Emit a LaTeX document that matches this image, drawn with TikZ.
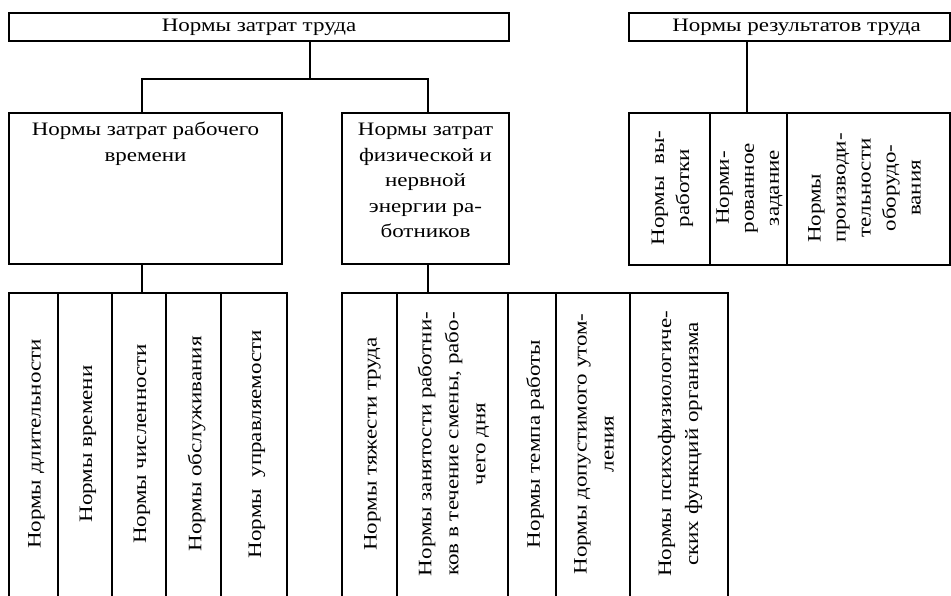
\documentclass[tikz,border=0pt]{standalone}
\usepackage{fontspec}
\setmainfont{Liberation Serif}[FakeStretch=1.21]
\usetikzlibrary{calc}
\newlength\mylen
\newcommand\fs{\fontsize{19}{25.5}\selectfont}
\newcommand\fsb{\fontsize{19}{27}\selectfont}
\newcommand\fsr{\fontsize{19}{25}\selectfont}
\begin{document}
\begin{tikzpicture}[x=1pt,y=-1pt,
  ln/.style={line width=1.5pt},
  bx/.style={draw, line width=1.5pt, inner sep=0pt, outer sep=0pt, font=\fs, align=center},
  col/.style={draw, line width=1.5pt, inner sep=0pt, outer sep=0pt, anchor=north, minimum height=330},
  rcol/.style={draw, line width=1.5pt, inner sep=0pt, outer sep=0pt, anchor=north, minimum height=152},
  vt/.style={rotate=90, font=\fsb, align=center, inner sep=0pt},
  vr/.style={rotate=90, font=\fsr, align=center, inner sep=0pt},
  ht/.style={font=\fs, align=center, inner sep=0pt, anchor=north}]
\clip (0,0) rectangle (951,595);
% top boxes
\node[bx, minimum width=500, minimum height=28] (T) at (259,27) {Нормы затрат труда};
\node[bx, minimum width=321, minimum height=28] (R) at (789.5,27) {\hspace*{14pt}Нормы результатов труда};
% second level
\node[col, minimum width=273, minimum height=151] (A) at (145.5,113) {};
\node[ht] (At) at (145.5,122) {Нормы затрат рабочего\\времени};
\node[col, minimum width=167, minimum height=151] (B) at (425.5,113) {};
\node[ht] (Bt) at (425.5,123) {Нормы затрат\\физической и\\нервной\\энергии ра-\\ботников};
% bottom left columns
\node[col, minimum width=49] (L1) at (33.5,293) {};
\node[col, minimum width=54] (L2) at (85,293) {};
\node[col, minimum width=54] (L3) at (139,293) {};
\node[col, minimum width=55] (L4) at (193.5,293) {};
\node[col, minimum width=66] (L5) at (254,293) {};
\node[vt] (L1t) at ($(L1.north)+(3,151)$) {Нормы длительности};
\node[vt] (L2t) at ($(L2.north)+(3,151)$) {Нормы времени};
\node[vt] (L3t) at ($(L3.north)+(3,151)$) {Нормы численности};
\node[vt] (L4t) at ($(L4.north)+(3,151)$) {Нормы обслуживания};
\node[vt] (L5t) at ($(L5.north)+(3,151)$) {Нормы\ \ управляемости};
% bottom middle columns
\node[col, minimum width=55] (M1) at (369.5,293) {};
\node[col, minimum width=111] (M2) at (452.5,293) {};
\node[col, minimum width=48] (M3) at (532,293) {};
\node[col, minimum width=74] (M4) at (593,293) {};
\node[col, minimum width=98] (M5) at (679,293) {};
\node[vt] (M1t) at ($(M1.north)+(3,151)$) {Нормы тяжести труда};
\node[vt] (M2t) at ($(M2.north)+(1,151)$) {Нормы занятости работни-\\ков в течение смены, рабо-\\чего дня};
\node[vt] (M3t) at ($(M3.north)+(3,151)$) {Нормы темпа работы};
\node[vt] (M4t) at ($(M4.north)+(1,151)$) {Нормы допустимого утом-\\ления};
\node[vt] (M5t) at ($(M5.north)+(1,151)$) {Нормы психофизиологиче-\\ских функций организма};
% right group columns
\node[rcol, minimum width=81] (R1) at (669.5,113) {};
\node[rcol, minimum width=77] (R2) at (748.5,113) {};
\node[rcol, minimum width=163] (R3) at (868.5,113) {};
\node[vr] (R1t) at ($(R1.north)+(3,75)$) {Нормы\ \ вы-\\работки};
\node[vr] (R2t) at ($(R2.north)+(1,75)$) {Норми-\\рованное\\задание};
\node[vr] (R3t) at ($(R3.north)+(-4,75)$) {{\settowidth{\mylen}{производи-}\makebox[\mylen][l]{Нормы}}\\производи-\\тельности\\оборудо-\\вания};
% connectors
\coordinate (j0) at (310,79);
\coordinate (jA) at (142,79);
\coordinate (jB) at (428,79);
\coordinate (jR) at (747,113);
\draw[ln] (T.south -| j0) -- (j0);
\draw[ln] (jA |- A.north) -- (jA) -- (jB) -- (jB |- B.north);
\draw[ln] (A.south -| jA) -- (jA |- L1.north);
\draw[ln] (B.south -| jB) -- (jB |- M1.north);
\draw[ln] (R.south -| jR) -- (jR);
\end{tikzpicture}
\end{document}
